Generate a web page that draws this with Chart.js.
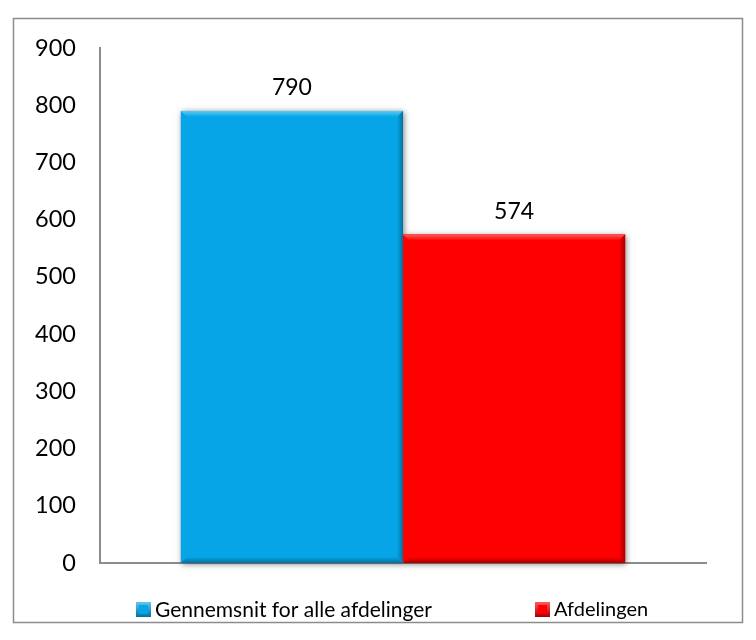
<!DOCTYPE html>
<html>
<head>
<meta charset="utf-8">
<script src="https://cdn.jsdelivr.net/npm/chart.js@4.4.1/dist/chart.umd.min.js"></script>
<style>
  html, body { margin: 0; padding: 0; background: #fff; }
  #wrap { width: 756px; height: 640px; position: relative; }
</style>
</head>
<body>
<div id="wrap"><canvas id="chart" width="756" height="640"></canvas></div>
<script>
// data
const categories = [''];
const seriesNames = ['Gennemsnit for alle afdelinger', 'Afdelingen'];
const gennemsnit = [790];
const afdelingen = [574];
const yTicks = [0, 100, 200, 300, 400, 500, 600, 700, 800, 900];

const FONT = 'Lato, "Open Sans", sans-serif';
const fills = ['#05a5e8', '#fe0000'];
const lights = ['#5ccaf2', '#ff5a5a'];
const darks = ['#03709f', '#a80000'];

// draws frame, soft shadow, bevel, value labels, legend
const excelLook = {
    id: 'excelLook',
    beforeDraw(chart) {
        const c = chart.ctx;
        c.save();
        c.fillStyle = '#fff';
        c.fillRect(0, 0, chart.width, chart.height);
        c.strokeStyle = '#8c8c8c';
        c.lineWidth = 1.5;
        c.strokeRect(13.5, 18.5, 729, 604);
        c.restore();
    },
    beforeDatasetsDraw(chart) {
        const c = chart.ctx;
        c.save();
        chart.data.datasets.forEach((ds, i) => {
            chart.getDatasetMeta(i).data.forEach((bar) => {
                const p = bar.getProps(['x', 'y', 'base', 'width'], true);
                c.shadowColor = 'rgba(0,0,0,0.5)';
                c.shadowBlur = 6;
                c.shadowOffsetX = 1;
                c.shadowOffsetY = 1;
                c.fillStyle = fills[i];
                c.fillRect(p.x - p.width / 2, p.y, p.width, p.base - p.y);
            });
        });
        c.restore();
    },
    afterDatasetsDraw(chart) {
        const c = chart.ctx;
        c.save();
        const b = 6;
        chart.data.datasets.forEach((ds, i) => {
            chart.getDatasetMeta(i).data.forEach((bar, j) => {
                const p = bar.getProps(['x', 'y', 'base', 'width'], true);
                const l = p.x - p.width / 2, r = p.x + p.width / 2, t = p.y, bt = p.base;
                // top bevel
                let g = c.createLinearGradient(0, t, 0, t + b);
                g.addColorStop(0, lights[i]);
                g.addColorStop(1, fills[i]);
                c.fillStyle = g;
                c.beginPath();
                c.moveTo(l, t); c.lineTo(r, t); c.lineTo(r - b, t + b); c.lineTo(l + b, t + b);
                c.closePath(); c.fill();
                // right bevel
                g = c.createLinearGradient(r - b, 0, r, 0);
                g.addColorStop(0, fills[i]);
                g.addColorStop(1, darks[i]);
                c.fillStyle = g;
                c.beginPath();
                c.moveTo(r, t); c.lineTo(r, bt); c.lineTo(r - b, bt - b); c.lineTo(r - b, t + b);
                c.closePath(); c.fill();
                // bottom bevel
                g = c.createLinearGradient(0, bt - b, 0, bt);
                g.addColorStop(0, fills[i]);
                g.addColorStop(1, darks[i]);
                c.fillStyle = g;
                c.beginPath();
                c.moveTo(l, bt); c.lineTo(r, bt); c.lineTo(r - b, bt - b); c.lineTo(l + b, bt - b);
                c.closePath(); c.fill();

                // value label
                c.font = '23px ' + FONT;
                c.fillStyle = '#000';
                c.textAlign = 'center';
                c.textBaseline = 'alphabetic';
                c.fillText(ds.data[j], p.x, t - 16);
            });
        });
        c.restore();
    },
    afterDraw(chart) {
        const c = chart.ctx;
        c.save();
        const xs = [136, 535];
        const sizes = [21, 20];
        chart.data.datasets.forEach((ds, i) => {
            const x = xs[i], y = 602;
            const g = c.createLinearGradient(x, y, x, y + 15);
            g.addColorStop(0, lights[i]);
            g.addColorStop(1, darks[i]);
            c.fillStyle = g;
            c.fillRect(x, y, 15, 15);
            c.fillStyle = fills[i];
            c.fillRect(x + 3, y + 3, 9, 9);
            c.font = sizes[i] + 'px ' + FONT;
            c.fillStyle = '#000';
            c.textAlign = 'left';
            c.textBaseline = 'middle';
            c.fillText(ds.label, x + 19, y + 8);
        });
        c.restore();
    }
};

new Chart(document.getElementById('chart'), {
    type: 'bar',
    data: {
        labels: categories,
        datasets: [{
            label: seriesNames[0],
            data: gennemsnit,
            backgroundColor: fills[0],
            borderWidth: 0
        }, {
            label: seriesNames[1],
            data: afdelingen,
            backgroundColor: fills[1],
            borderWidth: 0
        }]
    },
    options: {
        responsive: false,
        animation: false,
        categoryPercentage: 0.733,
        barPercentage: 1,
        layout: { padding: { left: 0, right: 50, top: 48, bottom: 77 } },
        plugins: {
            legend: { display: false },
            tooltip: { enabled: false }
        },
        scales: {
            x: {
                grid: { display: false },
                border: { color: '#8c8c8c', width: 2 },
                ticks: { display: false },
                afterFit: (s) => { s.height = 0; }
            },
            y: {
                min: 0,
                max: 900,
                afterBuildTicks: (s) => { s.ticks = yTicks.map(v => ({ value: v })); },
                grid: { display: false },
                border: { color: '#8c8c8c', width: 2 },
                ticks: {
                    font: { size: 23.5, family: FONT },
                    color: '#000',
                    padding: 16
                },
                afterFit: (s) => { s.width = 100; }
            }
        }
    },
    plugins: [excelLook]
});
</script>
</body>
</html>
